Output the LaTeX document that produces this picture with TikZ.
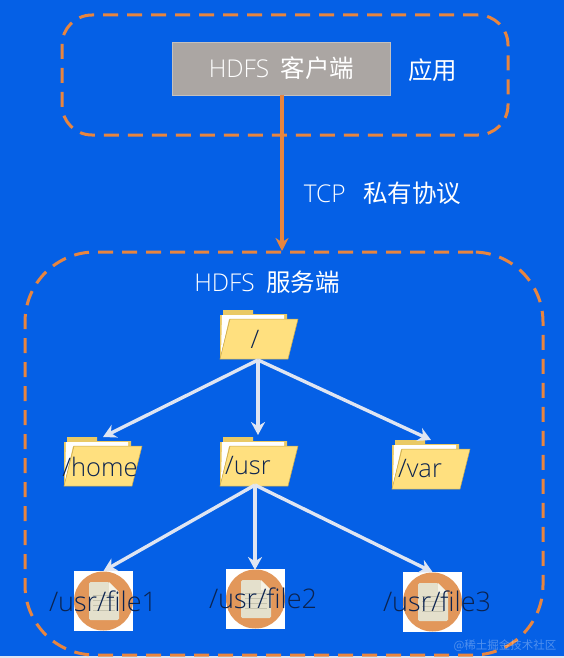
\documentclass[tikz,border=0pt]{standalone}
\usepackage{fontspec}
\setmainfont{Open Sans}[UprightFont=* Light,BoldFont=*]
\newfontfamily\cjkf{Noto Sans CJK SC}[Scale=1]
\usetikzlibrary{arrows.meta}
\definecolor{bgblue}{HTML}{0560E6}
\definecolor{dashorange}{HTML}{E8853F}
\definecolor{boxgrey}{HTML}{ABA6A3}
\definecolor{folderback}{HTML}{E9C965}
\definecolor{folderfront}{HTML}{FFE07F}
\definecolor{folderedge}{HTML}{C9A94E}
\definecolor{treeline}{HTML}{DFE5F2}
\definecolor{inktext}{HTML}{0B2350}
\definecolor{fileorange}{HTML}{E2975A}
\definecolor{filepaper}{HTML}{E4E0CC}
\definecolor{filefold}{HTML}{F6F3E6}
\definecolor{fileline}{HTML}{C4C2AE}
\tikzset{
  groupbox/.style={draw=dashorange,line width=3pt,dash pattern=on 15pt off 9pt,rounded corners=#1,outer sep=0pt},
  clientbox/.style={fill=boxgrey,draw=boxgrey!70!white,line width=.5pt,inner sep=0pt,outer sep=0pt,minimum width=218pt,minimum height=53pt},
  whitetext/.style={text=white,font=\fontsize{24.5}{27}\selectfont,inner sep=0pt},
  inklabel/.style={text=inktext,font=\fontsize{25.5}{28}\selectfont,inner sep=0pt},
  filelabel/.style={text=inktext,font=\fontsize{27}{29}\selectfont,inner sep=0pt},
  protocol/.style={draw=dashorange,line width=3.6pt,-{Stealth[length=13pt,width=13pt]}},
  treearrow/.style={draw=treeline,line width=3.4pt,-{Stealth[length=13pt,width=14pt]}},
  anchorbox/.style={inner sep=0pt,outer sep=0pt,minimum width=#1,minimum height=49pt},
}
% #1 name, #2 left, #3 top
\newcommand{\folderat}[3]{%
  \begin{scope}[shift={(#2,#3)}]
    \fill[folderback] (3,0) -- (33,0) -- (33,4) -- (67,4) -- (67,12) -- (0,49) -- (0,5) -- (3,5) -- cycle;
    \fill[white] (2,5) -- (64,5) -- (64,9) -- (9,9) -- (1,45) -- cycle;
    \fill[folderfront,draw=folderedge,line width=.5pt] (0,49) -- (10,9) -- (78,9) -- (68,49) -- cycle;
  \end{scope}
  \node[anchorbox=78pt,anchor=north west] (#1) at (#2,#3) {};
}
% #1 name, #2 left, #3 top
\newcommand{\fileat}[3]{%
  \node[fill=white,inner sep=0pt,outer sep=0pt,minimum width=59pt,minimum height=60pt,anchor=north west] (#1) at (#2,#3) {};
  \begin{scope}[shift={(#2,#3)}]
    \fill[fileorange] (29.5,30) circle (29.5);
    \fill[filepaper,rounded corners=1.5pt] (15,11) -- (35,11) -- (45,21) -- (45,49) -- (15,49) -- cycle;
    \fill[filefold] (35,11) -- (45,21) -- (35,21) -- cycle;
    \foreach \yy in {24,29,34,39}{\draw[fileline,line width=.8pt] (19,\yy) -- (41,\yy);}
  \end{scope}
}
\begin{document}
\begin{tikzpicture}[x=1pt,y=-1pt]
\useasboundingbox (0,0) rectangle (564,658);
\fill[bgblue] (0,0) rectangle (564,658);
\fill[treeline] (0,655.5) rectangle (564,658);

\node[groupbox=30pt,minimum width=446pt,minimum height=120pt,inner sep=0pt,anchor=north west] (appgroup) at (62,15) {};
\node[groupbox=70pt,minimum width=518pt,minimum height=403pt,inner sep=0pt,anchor=north west] (servergroup) at (25,252) {};

\node[clientbox,anchor=north west] (client) at (172,42) {};
\node[whitetext] (clienttext) at (281.5,68) {HDFS\hspace{5pt} {\cjkf 客户端}};
\node[whitetext] (apptext) at (432.5,70) {\cjkf 应用};
\node[whitetext] (tcptext) at (382.5,193) {TCP\hspace{11pt} {\cjkf 私有协议}};
\node[whitetext] (servertext) at (267,282) {HDFS\hspace{5pt} {\cjkf 服务端}};

\coordinate (clientfoot) at (282,95);
\coordinate (servertop) at (282,251);
\draw[protocol] (clientfoot) -- (servertop);

\folderat{root}{220}{310}
\folderat{home}{64}{437}
\folderat{usr}{220}{437}
\folderat{var}{392}{440}

\fileat{fileone}{74}{571}
\fileat{filetwo}{226}{569}
\fileat{filethree}{403}{572}

\coordinate (rootfoot) at (258,360);
\coordinate (usrtop) at (258,435);
\coordinate (usrfoot) at (255,485);
\coordinate (twotop) at (255,570);
\draw[treearrow] (rootfoot) -- (home.north);
\draw[treearrow] (rootfoot) -- (usrtop);
\draw[treearrow] (rootfoot) -- (var.north);
\draw[treearrow] (usrfoot) -- (fileone.north);
\draw[treearrow] (usrfoot) -- (twotop);
\draw[treearrow] (usrfoot) -- (filethree.north);

\node[inklabel] (rootlabel) at (255,339) {/};
\node[inklabel] (homelabel) at (100,467) {/home};
\node[inklabel] (usrlabel) at (248,466) {/usr};
\node[inklabel] (varlabel) at (420,469) {/var};
\node[filelabel] (fileonelabel) at (103,601) {/usr/file1};
\node[filelabel] (filetwolabel) at (263,598) {/usr/file2};
\node[filelabel] (filethreelabel) at (437,601) {/usr/file3};

\node[text=white,opacity=.3,font=\cjkf\fontsize{11.5}{13}\selectfont,inner sep=0pt] (mark) at (505,646) {@稀土掘金技术社区};
\end{tikzpicture}
\end{document}
